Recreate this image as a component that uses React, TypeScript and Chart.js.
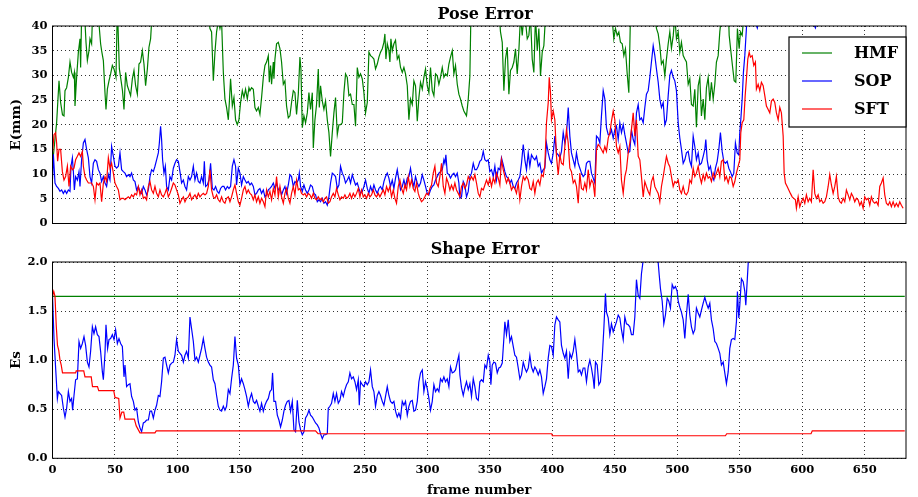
import React, { useEffect, useRef } from 'react';
import { Chart, registerables } from 'chart.js';

Chart.register(...registerables);

type Pair = [number, number];

const FRAME_MIN = 0;
const FRAME_MAX = 683;
const FRAME_TICKS = [0, 50, 100, 150, 200, 250, 300, 350, 400, 450, 500, 550, 600, 650];
const POSE_TICKS = [0, 5, 10, 15, 20, 25, 30, 35, 40];
const SHAPE_TICKS = [0, 0.5, 1.0, 1.5, 2.0];
const SERIES_NAMES = ['HMF', 'SOP', 'SFT'];
const SERIES_COLORS = ['#008000', '#0000ff', '#ff0000'];
const POSE_TITLE = 'Pose Error';
const SHAPE_TITLE = 'Shape Error';
const POSE_YLABEL = 'E(mm)';
const SHAPE_YLABEL = 'Es';
const XLABEL = 'frame number';

// Pose error, HMF: [frame, E(mm)] (values above 40 leave the plot)
const HMF_POSE: Pair[] = [[0,12],[3.3,20.4],[5.2,28.9],[6.5,24.5],[8,22],[9.2,21.8],[10,26.9],[11.3,27.5],[12.7,29.6],[14,32.7],[15.3,30.6],[16.7,29.6],[17.5,30.6],[18,23.8],[19.3,29.6],[20.7,34.7],[22,37.4],[22.5,31.6],[23.3,42],[25,46],[26.8,36.7],[27.9,33],[29.2,35],[30,37.4],[31.3,36.4],[32,42],[35,48],[37.5,39.5],[38.5,36.4],[39.3,35],[40.7,33],[42,26.5],[42.8,23.1],[43.9,27.2],[45.2,28.9],[46.5,30.3],[47.9,32],[49.2,31.3],[50.8,29.6],[51.9,44],[53.5,31.3],[54.5,29.6],[56,26.9],[57.2,23.1],[58.5,30.6],[59.9,27.9],[61.2,26.9],[62.5,25.9],[63.9,29.3],[65.2,31],[66.5,27.9],[67.9,26.2],[69.2,32.3],[70.5,32.7],[71.9,35],[73.2,32.3],[74.5,27.9],[75.9,31.3],[77.2,35.7],[78.5,37.4],[79.6,42],[90,50],[110,48],[124,44],[126,39.5],[127.3,38.8],[128.7,28.9],[130,34.7],[131.3,38.8],[132.7,41],[134,39.5],[135.3,41],[136.7,30.6],[138,25.2],[139.3,23.5],[140.7,21],[141.5,24.5],[142.5,29.3],[143.9,23.8],[145.2,25.5],[146.5,21],[147.9,20],[149.2,21],[150.5,24.5],[151.9,26.9],[153.2,25.5],[154.5,27.2],[155.9,25.2],[157.2,27.5],[158,26.9],[159.3,27.5],[160.7,27.2],[162,23.5],[163.3,22.8],[164.7,23.5],[166,22.1],[167.3,25.5],[168.7,29.6],[170,32],[171.3,32.7],[172.7,34],[173.5,28.6],[174.5,32],[175.3,28.2],[176.7,32.7],[177.2,29.3],[178,33.3],[179.3,36.4],[180.7,36.7],[182,35.4],[183.3,32.7],[184.7,28.2],[186,28.9],[187.3,23.8],[188.7,21.4],[190,21.8],[191.3,24.5],[192.7,26.9],[194,26.5],[195.3,22.1],[196.7,26.2],[198,33.7],[198.8,31.3],[199.9,19.4],[201.2,21.8],[202.5,20.4],[203.9,22.4],[205.2,26.5],[206.5,23.1],[207.9,26.5],[208.7,15.3],[210,21],[211.3,24.1],[212.7,31.3],[213.5,23.5],[214.5,27.9],[215.9,24.8],[217.2,23.1],[218.5,24.8],[219.9,21],[221.2,18.4],[222.5,13.6],[223.9,18.4],[225.2,22.4],[226.5,25.5],[227.9,18],[229.2,20],[230.5,20],[231.9,20.4],[233.2,26.5],[234.5,30.3],[235.9,29.6],[237.2,25.9],[238.5,26.2],[239.9,24.1],[241.2,24.1],[242.5,19.7],[243.9,31.6],[245.2,29.6],[246.5,30.3],[247.9,29.3],[249.2,26.5],[250.5,22.4],[251.9,24.5],[253.2,34.7],[254.5,34],[255.9,33.7],[257.2,33.3],[258.5,31.3],[259.9,32.3],[261.2,33.7],[262.5,34.7],[263.9,35.4],[265.2,36.7],[266,38.4],[266.8,33.3],[267.9,36.4],[269.2,35],[270,32.7],[270.8,37.4],[271.9,35],[273.2,36.4],[274.5,37.1],[275.9,33.3],[277.2,34],[278.5,31.6],[279.9,30.6],[281.2,31.6],[282.5,30.3],[283.9,27.9],[285.2,21],[286.5,25.2],[287.9,24.1],[289.2,28.9],[290.5,27.9],[291.9,20.7],[293.2,25.5],[294.5,28.6],[295.9,27.2],[297.2,29.6],[298.5,31.3],[299.9,27.9],[301.2,26.5],[302.5,31.6],[303.9,26.9],[305.2,25.9],[306.5,30.3],[307.9,29.9],[309.2,28.2],[310.5,29.6],[311.9,31.6],[313.2,29.6],[314.5,30.3],[315.9,29.9],[317.2,32.3],[318.5,33.7],[319.9,35],[321.2,30.3],[322.5,32],[323.9,28.2],[325.2,26.2],[326.5,25.2],[327.9,23.8],[329.2,22.8],[330,22.4],[331.3,21.8],[332.7,25.2],[334,29.9],[334.8,42],[345,50],[357,44],[358.5,38.8],[359.9,36.7],[361.2,26.9],[362.5,33.3],[363.9,35.7],[365.2,26.2],[366.5,31],[367.9,31.6],[369.2,32.7],[370.5,35.4],[371.9,30.3],[373.2,35],[374.5,42],[375.9,38.1],[377.2,42],[378.5,41],[379.9,37.4],[381.2,38.1],[382.5,42],[383.9,33.3],[385.2,30.6],[386.5,42],[387.9,35],[389.2,39.5],[390.5,29.9],[391.9,34.7],[393.2,36],[394.5,42],[410,52],[430,50],[447,44],[449.2,37.4],[450.5,39.5],[451.9,38.1],[453.2,38.8],[454.5,36.7],[455.9,36.4],[457.2,34],[458.5,35.4],[459.9,30.3],[461.2,26.5],[462.5,42],[472,50],[482,43],[483.3,39.5],[484.7,38.4],[486,36],[487.3,32.3],[488.7,33],[490,29.9],[491.3,33.3],[492.7,36.4],[494,38.8],[495.3,35.5],[496.7,38],[498,42],[499.3,37.4],[500.7,38.8],[502,34.7],[503.3,36.7],[504.7,34],[506,33.3],[507.3,32.7],[508.7,28.2],[510,29.3],[511.3,24.1],[512.7,23.8],[514,27.2],[515.3,19.5],[516.7,27.9],[518,29.6],[519.3,21.8],[520.7,25.2],[522,21],[523.3,27.5],[524.7,29.6],[526,24.8],[527.3,28.6],[528.7,25.2],[530,28.2],[531.3,32.7],[532.7,34],[534,38.8],[535.3,42],[538,48],[541,42],[541.5,38.1],[542.8,35],[544.1,32],[545.5,28.9],[546.8,28.6],[548.1,39.5],[549.5,35.4],[550.5,38.8],[551.9,38.1],[553.2,42],[556,50]];

// Pose error, SOP
const SOP_POSE: Pair[] = [[0,9],[0.7,14],[2,8.2],[3.3,7.5],[4.7,7.1],[6,6.5],[7.3,6.8],[8.7,6.1],[10,6.7],[11.3,6.1],[12.7,6.8],[14,6.5],[14.8,11.6],[15.9,13.3],[16.7,10.5],[17.5,6.8],[18.5,9.5],[19.9,8.8],[21.2,10.5],[22,7.5],[23.3,12.9],[24.7,16.3],[26,17],[27.3,15],[28.7,13.3],[30,9.5],[31.3,8.2],[32.7,12.2],[34,12.9],[35.3,12.6],[36.7,10.9],[38,10.2],[39.3,8.5],[40.7,9.5],[42,8.2],[43.3,7.5],[44.7,9.9],[46,8.8],[47.3,15.6],[48.7,13.6],[50,11.6],[51.3,11.2],[52.7,11.6],[54,14.3],[55.3,10.9],[56.7,10.5],[58,10.2],[59.3,9.5],[60.7,9.9],[62,9.5],[63.3,10.2],[64.7,8.8],[66,8.5],[67.3,6.8],[68.7,7.5],[70,6.5],[71.3,6.1],[72.7,7.5],[74,6.8],[75.3,5.8],[76.7,6.8],[78,9.5],[79.3,10.9],[80.7,10.5],[82,11.6],[83.3,12.9],[84.7,14.3],[85.5,16.3],[86.5,19.7],[87.3,17],[88.1,12.9],[89.2,10.2],[90.3,11.6],[91.3,7.5],[92.7,6.8],[94,9.5],[95.3,8.8],[96.7,11.2],[98,12.2],[99.3,12.9],[100.7,12.6],[102,10.5],[103.3,8.2],[104.7,8.8],[106,7.5],[107.3,6.8],[108.7,9.5],[110,8.8],[111.3,9.5],[112.7,11.6],[114,8.8],[115.3,10.2],[116.7,8.5],[118,8.2],[119.3,9.5],[120.7,8.2],[121.5,12.6],[122.5,7.5],[123.9,7.8],[125.2,8.8],[126.5,12.2],[127.9,7.1],[129.2,6.8],[130.5,7.5],[131.9,6.5],[133.2,6.1],[134.5,7.1],[135.9,7.5],[137.2,7.5],[138.5,6.8],[139.9,7.5],[141.2,7.1],[142.5,7.5],[143.9,11.6],[145.2,12.9],[146.5,11.6],[147.3,7.8],[148.7,11.2],[150,10.2],[151.3,7.8],[152.7,9.5],[154,8.8],[155.3,8.2],[156.7,8.5],[158,7.8],[159.3,8.2],[160.7,7.5],[162,5.8],[163.3,6.1],[164.7,6.8],[166,7.1],[167.3,6.1],[168.7,6.8],[170,5.4],[171.3,5.8],[172.7,6.8],[174,7.1],[175.3,7.5],[176.7,8.2],[178,7.1],[179.3,8.2],[180.7,6.8],[182,7.1],[183.3,5.8],[184.7,6.8],[186,7.5],[187.3,6.1],[188.7,7.8],[190,9.9],[191.3,9.5],[192.7,7.5],[194,8.5],[195.3,8.2],[196.7,8.8],[197.5,10.2],[198.5,7.5],[199.9,6.5],[201.2,7.8],[202.5,6.8],[203.9,6.1],[205.2,6.8],[206.5,7.8],[207.9,7.5],[209.2,6.1],[210.5,5.8],[211.9,4.4],[213.2,4.8],[214.5,4.4],[215.9,5.1],[217.2,4.1],[218.5,4.4],[219.9,3.7],[221.2,5.4],[222.5,8.2],[223.9,10.2],[225.2,9.9],[226.5,9.5],[227.9,7.1],[229.2,7.8],[230.5,11.6],[231.9,10.2],[233.2,9.5],[234.5,8.2],[235.9,8.8],[237.2,9.5],[238.5,8.2],[239.9,9.9],[241.2,8.8],[242.5,7.8],[243.9,8.2],[245.2,7.1],[246.5,6.1],[247.9,6.5],[249.2,7.5],[250.5,8.8],[251.9,7.1],[253.2,6.1],[254.5,7.5],[255.9,6.5],[257.2,7.8],[258.5,6.8],[259.9,6.1],[261.2,7.1],[262.5,7.5],[263.9,6.8],[265.2,8.5],[266.5,9.5],[267.9,10.2],[269.2,9.2],[270.5,7.5],[271.9,8.8],[273.2,7.1],[274.5,9.2],[275.9,10.9],[277.2,8.8],[278.5,6.8],[279.9,7.5],[281.2,8.8],[282.5,7.5],[283.9,9.2],[285.2,9.5],[286.5,11.2],[287.9,8.8],[289.2,7.5],[290.5,9.5],[291.9,8.2],[293.2,7.5],[294.5,8.2],[295.9,9.9],[297.2,8.8],[298.5,7.5],[299.9,6.1],[301.2,5.8],[302.5,6.8],[303.9,7.5],[305.2,7.8],[306.5,8.8],[307.9,9.5],[309.2,10.2],[310.5,10.5],[311.9,10.9],[313.2,12.9],[314,12.2],[314.8,13.9],[315.9,10.2],[317.2,9.9],[318.5,9.2],[319.9,9.9],[321.2,10.2],[322.5,9.5],[323.9,10.2],[325.2,8.2],[326,5.1],[327.3,5.4],[328.7,8.5],[330,7.8],[331.3,5.4],[332.7,6.5],[334,9.5],[335.3,10.2],[336.7,12.2],[338,10.9],[339.3,10.9],[340.7,11.6],[342,12.6],[343.3,12.9],[344.7,14.6],[346,12.9],[347.3,12.6],[348.7,12.9],[350,10.5],[351.3,10.9],[352.7,9.5],[354,11.6],[355.3,8.8],[356.7,11.2],[358,10.9],[359.3,13.3],[360.7,11.9],[362,10.5],[363.3,9.5],[364.7,9.2],[366,8.2],[367.3,8.8],[368.7,7.5],[370,7.1],[371.3,8.2],[372.7,8.8],[374,9.5],[375.3,12.2],[376.7,16],[378,12.9],[379.3,10.9],[380.7,14.3],[382,11.6],[383.3,13.9],[384.7,13.3],[386,12.9],[387.3,13.6],[388.7,11.6],[390,12.2],[391.3,10.2],[392.7,10.9],[394,11.2],[395.3,16.3],[396.7,14.3],[398,12.9],[399.3,12.2],[400.7,14.3],[402,17.7],[403.3,14.3],[404.7,13.9],[406,13.3],[407.3,14.6],[408.7,18.4],[410,16.3],[411.3,18],[412.7,23.5],[414,17.7],[415.3,14.3],[416.7,12.9],[418,11.6],[419.3,14.3],[420.7,12.2],[422,11.2],[423.3,10.2],[424.7,9.5],[426,9.9],[427.3,12.2],[428.7,12.6],[430,12.6],[431.3,10.2],[432.7,9.2],[434,8.2],[435.3,17.7],[436.7,17.3],[438,16.3],[439.3,21.8],[440.7,26.9],[442,25.2],[443.3,19.4],[444.7,18],[446,18],[447.3,19],[448.7,17.3],[450,19],[451.3,19.7],[452.7,17],[454,20.4],[455.3,18.4],[456.7,20],[458,18],[459.3,16.3],[460.7,14.3],[462,14.6],[463.3,19],[464.7,17],[466,16],[467.3,22.4],[468.7,24.1],[470,21],[471.3,21.4],[472.7,20.4],[474,23.5],[475.3,26.2],[476.7,26.9],[478,29.6],[479.3,32.7],[480.7,36],[482,34],[483.3,31.3],[484.7,28.6],[486,25.2],[487.3,23.5],[488.7,24.5],[490,20],[491.3,21],[492.7,25.9],[494,30],[495.3,31],[496.7,29.6],[498,28.9],[499.3,26.9],[500.7,20.4],[502,17.3],[503.3,15],[504.7,12.2],[506,12.9],[507.3,14.3],[508.7,14.6],[510,12.6],[511.3,11.6],[512.7,17.7],[514,15.6],[515.3,12.9],[516.7,14.3],[518,11.9],[519.3,12.2],[520.7,13.6],[522,15],[522.8,17],[523.9,12.9],[525.2,10.9],[526.5,11.6],[527.9,9.5],[529.2,8.8],[530.5,11.2],[531.9,12.6],[533.2,15],[534.5,18.4],[535.9,14.6],[537.2,12.6],[538.5,12.2],[539.9,12.6],[541.2,11.2],[542.5,10.5],[543.9,9.5],[545.2,10.2],[546.5,16.3],[547.9,14.3],[549.2,13.9],[550,18.4],[550.8,21],[551.9,25.2],[552.9,30.6],[554,34],[554.8,37.4],[555.9,42],[558,46],[562,41],[564,39.6],[566,42],[580,48],[600,46],[609,40.5],[610.5,39.6],[612,41],[630,50],[682,55]];

// Pose error, SFT
const SFT_POSE: Pair[] = [[0,14.3],[1.2,18],[2.5,18.4],[3.3,16.3],[4.1,12.6],[5.2,15],[6.5,15],[7.9,10.5],[9.2,8.8],[10.5,9.5],[11.9,11.6],[13.2,7.5],[14.5,11.6],[15.9,10.9],[17.2,11.2],[18.5,12.9],[19.9,13.6],[21.2,14.3],[22.5,13.6],[23.9,14.6],[24.7,11.6],[26,9.5],[27.3,8.8],[28.7,8.2],[30,8.2],[31.3,8.2],[32.7,7.5],[34,4.8],[35.3,8.2],[36.7,7.8],[38,8.2],[39.3,4.4],[40.7,8.2],[42,9.5],[43.3,8.5],[44.7,13.3],[46,11.2],[47.3,12.2],[48.7,10.2],[50,8.2],[51.3,7.5],[52.7,6.8],[54,4.8],[55.3,5.1],[56.7,5.1],[58,4.8],[59.3,5.1],[60.7,5.4],[62,5.1],[63.3,5.8],[64.7,5.4],[66,6.1],[67.3,5.8],[68.7,7.5],[70,5.8],[71.3,6.8],[72.7,5.1],[74,5.4],[75.3,4.8],[76.7,7.5],[78,8.5],[79.3,6.8],[80.7,6.1],[82,7.5],[83.3,6.1],[84.7,5.4],[86,6.8],[87.3,5.8],[88.7,5.4],[90,6.1],[91.3,7.1],[92.7,5.4],[94,6.1],[95.3,7.1],[96.7,8.2],[98,7.8],[99.3,6.8],[100.7,5.8],[102,4.1],[103.3,4.8],[104.7,5.4],[106,4.4],[107.3,5.1],[108.7,5.4],[110,6.1],[111.3,4.8],[112.7,5.4],[114,5.8],[115.3,5.1],[116.7,6.1],[118,5.4],[119.3,5.8],[120.7,6.1],[122,5.8],[123.3,6.1],[124.7,7.5],[126,10.9],[127.3,6.8],[128.7,5.4],[130,5.1],[131.3,5.8],[132.7,4.8],[134,4.4],[135.3,5.4],[136.7,4.4],[138,4.1],[139.3,5.1],[140.7,5.4],[142,4.4],[143.3,5.4],[144.7,6.8],[146,7.8],[147.3,6.1],[148.7,4.4],[150,3.7],[151.3,5.1],[152.7,6.8],[154,7.5],[155.3,6.1],[156.7,6.8],[158,6.1],[159.3,5.8],[160.7,4.8],[162,5.8],[163.3,4.4],[164.7,5.4],[166,4.1],[167.3,5.1],[168.7,4.4],[170,3.4],[171.3,6.8],[172.7,5.4],[174,6.5],[175.3,4.8],[176.7,7.1],[178,5.8],[179.3,9.5],[180.7,5.4],[182,7.5],[183.3,5.4],[184.7,4.1],[186,6.1],[187.3,7.1],[188.7,5.1],[190,4.1],[191.3,6.1],[192.7,7.5],[194,5.8],[195.3,8.8],[196.7,6.8],[198,7.1],[199.3,6.1],[200.7,5.8],[202,6.1],[203.3,5.4],[204.7,6.1],[206,5.8],[207.3,5.1],[208.7,6.1],[210,5.1],[211.3,4.8],[212.7,5.4],[214,4.8],[215.3,5.1],[216.7,4.4],[218,5.1],[219.3,5.4],[220.7,4.1],[222,4.4],[223.3,5.4],[224.7,6.1],[226,5.4],[227.3,7.1],[228.7,5.8],[230,4.8],[231.3,5.4],[232.7,5.1],[234,5.8],[235.3,5.1],[236.7,5.4],[238,6.1],[239.3,5.1],[240.7,6.1],[242,5.4],[243.3,6.1],[244.7,7.1],[246,5.4],[247.3,6.8],[248.7,5.4],[250,5.8],[251.3,5.1],[252.7,6.1],[254,5.4],[255.3,5.8],[256.7,6.8],[258,5.8],[259.3,5.4],[260.7,6.1],[262,5.4],[263.3,6.1],[264.7,6.8],[266,5.8],[267.3,7.5],[268.7,6.5],[270,7.5],[271.3,5.4],[272.7,6.8],[274,5.1],[275.3,4.1],[276.7,7.5],[278,8.8],[279.3,7.1],[280.7,6.1],[282,7.8],[283.3,6.8],[284.7,9.5],[286,7.5],[287.3,8.8],[288.7,7.1],[290,6.5],[291.3,8.2],[292.7,6.1],[294,5.1],[295.3,4.4],[296.7,4.8],[298,5.4],[299.3,6.1],[300.7,5.8],[302,7.1],[303.3,7.8],[304.7,10.2],[306,11.6],[307.3,8.2],[308.7,7.5],[310,9.5],[311.3,12.2],[312.7,7.5],[314,6.1],[315.3,9.2],[316.7,8.2],[318,6.8],[319.3,7.8],[320.7,6.8],[322,8.2],[323.3,6.8],[324.7,6.1],[326,5.4],[327.3,7.5],[328.7,8.2],[330,7.1],[331.3,7.8],[332.7,9.5],[334,8.8],[335.3,9.5],[336.7,8.8],[338,9.9],[339.3,8.2],[340.7,6.1],[342,5.4],[343.3,7.1],[344.7,6.8],[346,7.8],[347.3,8.8],[348.7,7.8],[350,9.2],[351.3,7.5],[352.7,9.2],[354,8.2],[355.3,10.2],[356.7,9.2],[358,7.8],[359.3,12.9],[360.7,10.9],[362,9.5],[363.3,8.2],[364.7,9.2],[366,8.2],[367.3,6.8],[368.7,7.5],[370,7.1],[371.3,6.1],[372.7,8.2],[374,4.8],[375.3,7.5],[376.7,9.5],[378,8.8],[379.3,9.5],[380.7,8.8],[382,7.1],[383.3,6.8],[384.7,8.5],[386,6.1],[387.3,8.2],[388.7,8.8],[390,7.8],[391.3,9.9],[392.7,9.5],[394,11.9],[395.3,20.4],[396.7,24.5],[397.5,29.6],[398.5,26.5],[399.3,21],[400.7,22.8],[402,21],[403.3,13.6],[404.7,9.9],[406,13.9],[407.3,12.2],[408.7,11.9],[410,15.6],[411.3,19],[412.7,16.3],[414,11.2],[415.3,10.5],[416.7,8.2],[418,8.8],[419.3,7.5],[420.7,4.1],[422,10.2],[423.3,7.1],[424.7,6.8],[426,8.2],[427.3,6.8],[428.7,10.9],[430,7.5],[431.3,8.8],[432.7,8.2],[434,5.4],[435.3,15],[436.7,16],[438,15.6],[439.3,15],[440.7,14.3],[442,15.6],[443.3,14.6],[444.7,17.3],[446,18.4],[447.3,20.7],[448.7,22.8],[450,21],[451.3,15.6],[452.7,14.3],[454,15.6],[455.3,8.8],[456.7,6.1],[458,9.5],[459.3,10.9],[460.7,14.3],[462,16.3],[463.3,19],[464.7,22.4],[466,17.7],[467.3,21],[468.7,13.6],[470,12.9],[471.3,9.5],[472.7,5.4],[474,8.5],[475.3,7.5],[476.7,6.5],[478,5.8],[479.3,8.5],[480.7,9.5],[482,7.5],[483.3,6.8],[484.7,6.1],[486,4.4],[487.3,7.5],[488.7,9.5],[490,11.6],[491.3,13.6],[492.7,12.2],[494,11.5],[495.3,9.5],[496.7,7.5],[498,8.5],[499.3,8.2],[500.7,8.8],[502,6.8],[503.3,6.1],[504.7,7.5],[506,6.1],[507.3,5.8],[508.7,6.5],[510,8.8],[511.3,8.2],[512.7,11.2],[514,9.5],[515.3,10.2],[516.7,11.6],[518,9.5],[519.3,8.2],[520.7,9.9],[522,8.8],[523.3,10.2],[524.7,9.2],[526,9.5],[527.3,8.5],[528.7,10.2],[530,9.2],[531.3,10.2],[532.7,11.2],[534,9.5],[535.3,12.6],[536.7,12.9],[538,8.8],[539.3,9.5],[540.7,8.2],[542,9.5],[543.3,9.2],[544.7,7.5],[546,8.5],[547.3,10.2],[548.7,11.6],[550,12.9],[550.8,18.4],[551.9,20.4],[553.2,21],[554.3,25.9],[555.3,29.3],[556.4,33.3],[557.5,34.7],[558.5,33.7],[559.9,34],[561.2,32],[562.5,32.7],[563.3,27.2],[564.7,28.2],[566,26.9],[567.3,28.6],[568.7,27.9],[570,25.9],[571.3,23.8],[572.7,23.1],[574,22.4],[575.3,24.8],[576.7,25.2],[578,24.5],[579.3,22.4],[580.7,21],[582,23.5],[583.3,22.4],[584.7,17.7],[585.5,10.2],[586.5,8.2],[587.9,7.5],[589.2,6.8],[590.5,6.1],[591.9,5.4],[593.2,5.1],[594.5,4.8],[595.3,3.1],[596.7,5.4],[598,3.4],[599.3,4.4],[600.7,5.1],[602,4.1],[603.3,5.8],[604.7,4.4],[606,5.1],[607.3,4.4],[608.7,10.9],[610,6.1],[611.3,5.1],[612.7,5.8],[614,4.4],[615.3,4.8],[616.7,4.1],[618,4.4],[619.3,5.4],[620.7,7.5],[622,9.9],[623.3,7.8],[624.7,6.1],[626,7.5],[627.3,9.5],[628.7,5.4],[630,4.4],[631.3,4.1],[632.7,5.1],[634,4.4],[635.3,6.8],[636.7,5.8],[638,4.8],[639.3,6.1],[640.7,5.4],[642,4.4],[643.3,5.1],[644.7,4.8],[646,3.7],[647.3,4.4],[648.7,3.1],[650,5.4],[651.3,4.8],[652.7,5.1],[654,3.7],[655.3,5.4],[656.7,4.4],[658,4.1],[659.3,4.4],[660.7,3.7],[662,7.5],[663.3,8.2],[664.7,9.2],[666,5.8],[667.3,4.1],[668.7,3.7],[670,4.4],[671.3,3.4],[672.7,4.4],[674,3.4],[675.3,4.1],[676.7,3.4],[678,4.4],[679.3,3.7],[680.7,3.1]];

// Shape error, HMF (flat)
const HMF_SHAPE: Pair[] = [[0,1.65],[682,1.65]];

// Shape error, SOP (values above 2.0 leave the plot)
const SOP_SHAPE: Pair[] = [[0,1.66],[1.2,1.22],[2.5,0.92],[3.9,0.61],[4.7,0.68],[6,0.66],[7.3,0.64],[8.7,0.51],[10,0.42],[11.3,0.51],[12.7,0.68],[14,0.58],[15.3,0.61],[16.1,0.49],[17.2,0.64],[18.5,0.8],[19.9,0.81],[21.2,1.19],[22.5,1.12],[23.9,1.17],[25.2,1.24],[26.5,1.15],[27.9,0.98],[29.2,0.93],[30.5,1.09],[31.9,1.34],[33.2,1.27],[34.5,1.34],[35.9,1.26],[37.2,1.24],[38.5,1.09],[39.9,0.88],[40.7,0.8],[42,1.07],[42.8,1.36],[44.1,1.12],[45.2,1.21],[46.5,1.22],[47.9,1.26],[49.2,1.21],[50.5,1.31],[51.9,1.17],[53.2,1.22],[54.5,1.17],[55.9,1.14],[57.2,0.83],[58,0.95],[59.3,0.73],[60.7,0.75],[62,0.76],[63.3,0.63],[64.7,0.58],[66,0.49],[67.3,0.51],[68.7,0.37],[70,0.31],[71.3,0.27],[72.7,0.36],[74,0.37],[75.3,0.39],[76.7,0.39],[78,0.48],[79.3,0.48],[80.7,0.41],[82,0.49],[83.3,0.54],[84.7,0.64],[86,0.63],[87.3,0.78],[88.7,1.02],[90,1.03],[91.3,0.95],[92.7,0.87],[94,0.95],[95.3,0.97],[96.7,0.98],[98,1.05],[99.3,1.21],[100.7,1.09],[102,1.07],[103.3,1.05],[104.7,0.98],[106,1.05],[107.3,1.09],[108.7,1.02],[110,1.44],[111.3,1.32],[112.7,1.19],[114,1.0],[115.3,1.03],[116.7,0.98],[118,1.05],[119.3,1.12],[120.7,1.22],[122,1.12],[123.3,1.03],[124.7,0.98],[126,0.95],[127.3,0.93],[128.7,0.8],[130,0.76],[131.3,0.64],[132.7,0.53],[134,0.49],[135.3,0.48],[136.7,0.53],[138,0.49],[139.3,0.53],[140.7,0.7],[142,0.66],[143.3,0.81],[144.7,0.95],[146,1.24],[147.3,1.02],[148.7,0.95],[150,0.75],[151.3,0.81],[152.7,0.76],[154,0.7],[155.3,0.63],[156.7,0.53],[158,0.61],[159.3,0.66],[160.7,0.58],[162,0.56],[163.3,0.59],[164.7,0.53],[166,0.48],[167.3,0.56],[168.7,0.48],[170,0.54],[171.3,0.58],[172.7,0.61],[174,0.68],[175.3,0.7],[176.1,0.87],[177.2,0.58],[178.5,0.58],[179.9,0.44],[181.2,0.39],[182.5,0.32],[183.9,0.39],[185.2,0.48],[186.5,0.54],[187.9,0.58],[189.2,0.59],[190.5,0.48],[191.9,0.58],[193.2,0.29],[194.5,0.27],[195.9,0.59],[197.2,0.37],[198.5,0.29],[199.9,0.24],[201.2,0.27],[202.5,0.41],[203.9,0.44],[205.2,0.49],[206.5,0.44],[207.9,0.42],[209.2,0.39],[210.5,0.36],[211.9,0.34],[213.2,0.31],[214.5,0.25],[215.9,0.2],[217.2,0.24],[218.5,0.24],[219.9,0.25],[220.7,0.51],[222,0.53],[223.3,0.56],[224.7,0.66],[226,0.58],[227.3,0.66],[228.7,0.56],[230,0.59],[231.3,0.68],[232.7,0.63],[234,0.7],[235.3,0.75],[236.7,0.78],[238,0.87],[239.3,0.81],[240.7,0.83],[242,0.78],[243.3,0.7],[244.7,0.8],[245.5,0.54],[246.5,0.78],[247.9,0.75],[249.2,0.73],[250.5,0.78],[251.9,0.75],[253.2,0.78],[254.5,0.9],[255.9,0.73],[257.2,0.68],[258.5,0.53],[259.9,0.64],[261.2,0.68],[262.5,0.64],[263.9,0.58],[265.2,0.54],[266.5,0.63],[267.9,0.73],[269.2,0.64],[270.5,0.58],[271.9,0.56],[273.2,0.58],[274.5,0.48],[275.9,0.42],[277.2,0.46],[278.5,0.41],[279.9,0.58],[281.2,0.54],[282.5,0.58],[283.9,0.44],[285.2,0.53],[286.5,0.58],[287.9,0.59],[289.2,0.48],[290.5,0.49],[291.9,0.58],[293.2,0.78],[294.5,0.87],[295.9,0.9],[297.2,0.68],[298.5,0.78],[299.9,0.71],[301.2,0.61],[302.5,0.49],[303.9,0.58],[305.2,0.75],[306.5,0.68],[307.9,0.71],[309.2,0.68],[310.5,0.81],[311.9,0.78],[313.2,0.83],[314.5,0.78],[315.9,0.81],[317.2,0.73],[318.5,0.93],[319.9,0.87],[321.2,0.88],[322.5,0.9],[323.9,0.98],[325.2,1.05],[326,0.85],[327.3,0.72],[328.7,0.64],[330,0.72],[331.3,0.78],[332.7,0.7],[334,0.76],[335.3,0.63],[336.7,0.81],[338,0.73],[339.3,0.61],[340.7,0.59],[342,0.78],[343.3,0.8],[344.7,0.78],[346,0.95],[347.3,0.92],[348.7,1.05],[350,0.98],[350.8,0.75],[351.9,0.95],[353.2,0.98],[354.5,0.97],[355.9,0.87],[357.2,0.92],[358.5,0.93],[359.9,0.97],[361.2,1.22],[362,1.39],[363.3,1.26],[364.7,1.41],[366,1.19],[367.3,1.24],[368.7,1.14],[370,1.05],[371.3,1.03],[372.7,0.92],[374,0.81],[375.3,0.85],[376.7,0.98],[378,0.92],[379.3,0.88],[380.7,0.92],[382,1.05],[383.3,0.93],[384.7,0.88],[386,0.93],[387.3,0.9],[388.7,0.85],[390,0.9],[391.3,0.83],[392.7,0.66],[394,0.73],[395.3,0.81],[396.7,1.02],[398,1.15],[399.3,1.14],[400.7,1.05],[402,1.36],[403.3,1.44],[404.7,1.41],[406,1.39],[407.3,1.15],[408.7,1.07],[410,1.02],[411.3,1.09],[412.7,0.81],[414,1.07],[415.3,1.02],[416.7,1.09],[418,1.21],[419.3,1.07],[420.7,0.88],[422,0.9],[423.3,0.85],[424.7,0.92],[426,0.92],[427.3,0.78],[428.7,0.93],[430,1.0],[431.3,0.92],[432.7,0.81],[433.5,0.71],[434.5,0.98],[435.9,0.95],[437.2,0.75],[438.5,0.78],[439.9,1.02],[441.2,1.32],[442.5,1.68],[443.3,1.49],[444.7,1.43],[446,1.26],[447.3,1.37],[448.7,1.29],[450,1.34],[451.3,1.39],[452.7,1.46],[454,1.43],[455.3,1.31],[456.7,1.21],[458,1.44],[459.3,1.37],[460.7,1.36],[462,1.34],[463.3,1.26],[464.7,1.26],[466,1.44],[467.3,1.82],[468.7,1.66],[470,1.63],[471.3,1.88],[472.7,2.02],[476,2.15],[480,2.2],[484,2.1],[485.5,1.87],[486.5,1.73],[487.9,1.6],[489.2,1.37],[490.5,1.46],[491.9,1.63],[493.2,1.6],[494.5,1.53],[495.9,1.77],[497.2,1.73],[498.5,1.75],[499.9,1.7],[500.7,1.6],[502,1.54],[503.3,1.49],[504.7,1.41],[506,1.22],[507.3,1.46],[508.7,1.67],[510,1.46],[511.3,1.34],[512.7,1.27],[514,1.31],[515.3,1.53],[516.7,1.48],[518,1.44],[519.3,1.51],[520.7,1.58],[522,1.64],[523.3,1.58],[524.7,1.53],[526,1.58],[527.3,1.41],[528.7,1.32],[530,1.19],[531.3,1.17],[532.7,1.12],[534,1.07],[535.3,0.95],[536.7,0.98],[538,0.87],[539.3,0.76],[540.7,0.88],[542,1.12],[543.3,1.21],[544.7,1.22],[546,1.21],[547.3,1.39],[548.1,1.7],[549.2,1.43],[550,1.56],[551.3,1.83],[552.7,1.8],[554,1.7],[554.8,1.56],[555.9,1.8],[557,2.05],[560,2.4],[682,2.6]];

// Shape error, SFT (stepwise)
const SFT_SHAPE: Pair[] = [[0,1.65],[1,1.7],[2,1.65],[3,1.35],[4,1.15],[5,1.1],[6,1.0],[7,0.95],[8,0.87],[18.5,0.87],[19,0.89],[25,0.89],[26,0.83],[31,0.83],[32,0.73],[36,0.73],[37,0.69],[49,0.69],[50,0.62],[53,0.61],[54,0.41],[55.5,0.47],[57,0.47],[58,0.4],[65.5,0.4],[67,0.33],[70,0.26],[82,0.26],[83,0.28],[210.5,0.28],[212.5,0.25],[399.5,0.25],[400,0.23],[538.5,0.23],[539.5,0.25],[607,0.25],[608,0.28],[682,0.28]];

const POSE_SERIES = [HMF_POSE, SOP_POSE, SFT_POSE];
const SHAPE_SERIES = [HMF_SHAPE, SOP_SHAPE, SFT_SHAPE];

const FONT_FAMILY = '"DejaVu Serif", serif';
const CANVAS_W = 970;
const PLOT_LEFT = 52.5;
const PLOT_RIGHT = 906;
const GRID_COLOR = 'rgba(0,0,0,0.8)';

const toXY = (pairs: Pair[]) => pairs.map(([x, y]) => ({ x, y }));

const framePlugin = {
  id: 'frameBox',
  afterDatasetsDraw(chart: any) {
    const { ctx, chartArea: a } = chart;
    ctx.save();
    ctx.strokeStyle = '#000';
    ctx.lineWidth = 1;
    ctx.strokeRect(a.left, a.top, a.right - a.left, a.bottom - a.top);
    ctx.restore();
  },
};

const legendPlugin = {
  id: 'boxLegend',
  afterDraw(chart: any) {
    const { ctx, chartArea: a } = chart;
    const w = 117, h = 90, rowH = 28;
    const left = a.right - w;
    const top = a.top + 11;
    ctx.save();
    ctx.fillStyle = '#fff';
    ctx.fillRect(left, top, w, h);
    ctx.strokeStyle = '#000';
    ctx.lineWidth = 1.2;
    ctx.strokeRect(left, top, w, h);
    ctx.font = `bold 16px ${FONT_FAMILY}`;
    ctx.textBaseline = 'middle';
    ctx.textAlign = 'left';
    chart.data.datasets.forEach((ds: any, i: number) => {
      const y = top + 16 + i * rowH;
      ctx.strokeStyle = ds.borderColor;
      ctx.lineWidth = 1.2;
      ctx.beginPath();
      ctx.moveTo(left + 13, y);
      ctx.lineTo(left + 43, y);
      ctx.stroke();
      ctx.fillStyle = '#000';
      ctx.fillText(ds.label, left + 65, y + 1);
    });
    ctx.restore();
  },
};

function makeDatasets(series: Pair[][]) {
  return series.map((s, i) => ({
    label: SERIES_NAMES[i],
    data: toXY(s),
    borderColor: SERIES_COLORS[i],
    backgroundColor: SERIES_COLORS[i],
    borderWidth: 1.2,
    pointRadius: 0,
    tension: 0,
    fill: false,
    clip: 0,
    order: 3 - i,
  }));
}

function makeOptions(kind: 'pose' | 'shape', canvasH: number, plotBottom: number): any {
  const isPose = kind === 'pose';
  const yTicks = isPose ? POSE_TICKS : SHAPE_TICKS;
  return {
    responsive: false,
    animation: false,
    devicePixelRatio: 1,
    events: [],
    layout: { padding: { left: 0, right: 0, top: 0, bottom: isPose ? canvasH - plotBottom : 0 } },
    plugins: {
      legend: { display: false },
      tooltip: { enabled: false },
      title: {
        display: true,
        text: isPose ? POSE_TITLE : SHAPE_TITLE,
        color: '#000',
        font: { family: FONT_FAMILY, size: 16, weight: 'bold' },
        padding: isPose ? { top: 5.4, bottom: 1.4 } : { top: 4.4, bottom: 2.4 },
      },
    },
    scales: {
      x: {
        type: 'linear',
        min: FRAME_MIN,
        max: FRAME_MAX,
        afterBuildTicks: (s: any) => { s.ticks = FRAME_TICKS.map((v) => ({ value: v })); },
        afterFit: (s: any) => { s.height = isPose ? 0 : canvasH - plotBottom; },
        ticks: {
          display: !isPose,
          color: '#000',
          padding: 5.3,
          maxRotation: 0,
          autoSkip: false,
          font: { family: FONT_FAMILY, size: 11.5, weight: 'bold' },
          callback: (v: any) => String(v),
        },
        grid: { color: GRID_COLOR, lineWidth: 1, drawTicks: false },
        border: { display: false, dash: [1, 3] },
        title: {
          display: !isPose,
          text: XLABEL,
          color: '#000',
          font: { family: FONT_FAMILY, size: 13, weight: 'bold', lineHeight: 1 },
          padding: { top: 0, bottom: 0 },
        },
      },
      y: {
        type: 'linear',
        min: yTicks[0],
        max: yTicks[yTicks.length - 1],
        afterBuildTicks: (s: any) => { s.ticks = yTicks.map((v) => ({ value: v })); },
        afterFit: (s: any) => { s.width = PLOT_LEFT; },
        ticks: {
          color: '#000',
          padding: 5,
          font: { family: FONT_FAMILY, size: 11.5, weight: 'bold' },
          callback: (v: any) => (isPose ? String(v) : Number(v).toFixed(1)),
        },
        grid: { color: GRID_COLOR, lineWidth: 1, drawTicks: false },
        border: { display: false, dash: [1, 3] },
        title: {
          display: true,
          text: isPose ? POSE_YLABEL : SHAPE_YLABEL,
          color: '#000',
          font: { family: FONT_FAMILY, size: 13.5, weight: 'bold' },
          padding: { top: 8, bottom: 0 },
        },
      },
      yR: {
        type: 'linear',
        position: 'right',
        display: true,
        ticks: { display: false },
        grid: { display: false, drawTicks: false },
        border: { display: false },
        afterFit: (s: any) => { s.width = CANVAS_W - PLOT_RIGHT; },
      },
    },
  };
}

function ChartCanvas({ kind, width, height, plotBottom, top }: { kind: 'pose' | 'shape'; width: number; height: number; plotBottom: number; top: number }) {
  const ref = useRef<HTMLCanvasElement | null>(null);
  useEffect(() => {
    if (!ref.current) return;
    const chart = new Chart(ref.current, {
      type: 'line',
      data: { datasets: makeDatasets(kind === 'pose' ? POSE_SERIES : SHAPE_SERIES) as any },
      options: makeOptions(kind, height, plotBottom),
      plugins: kind === 'pose' ? [framePlugin, legendPlugin] : [framePlugin],
    } as any);
    return () => chart.destroy();
  }, [kind, width, height, plotBottom]);
  return (
    <canvas
      ref={ref}
      width={width}
      height={height}
      style={{ position: 'absolute', left: 0, top, width, height, display: 'block' }}
    />
  );
}

export default function App() {
  return (
    <div style={{ position: 'fixed', left: 0, top: 0, width: 918, height: 497, overflow: 'hidden', background: '#fff' }}>
      <ChartCanvas kind="pose" width={CANVAS_W} height={236} plotBottom={223.5} top={0} />
      <ChartCanvas kind="shape" width={CANVAS_W} height={261} plotBottom={222.3} top={236} />
    </div>
  );
}
